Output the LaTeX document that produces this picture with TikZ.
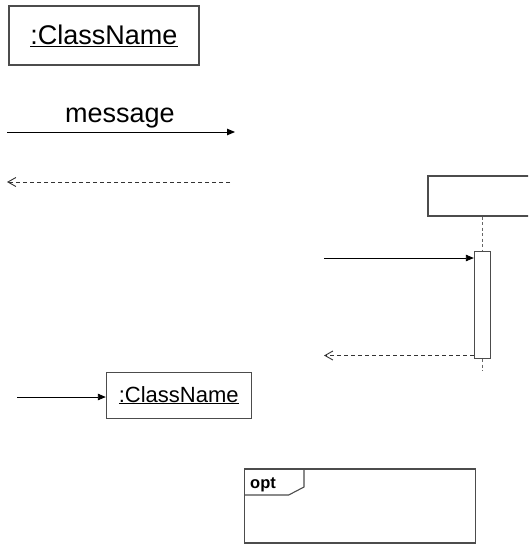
\documentclass[tikz,border=0pt]{standalone}
\usepackage{fontspec}
\setmainfont{Liberation Sans}
\usetikzlibrary{arrows.meta}
\begin{document}
\begin{tikzpicture}[x=1pt,y=-1pt,
  box/.style={draw=black!70, line width=1.1pt, inner sep=0pt, fill=white},
  msg/.style={draw=black, line width=0.9pt, -{Triangle[length=8pt,width=6.5pt]}},
  ret/.style={draw=black!80, line width=0.9pt, dash pattern=on 4pt off 3pt,
              -{Straight Barb[length=8pt,width=9pt,line width=0.9pt]}},
  life/.style={draw=black!60, line width=1.7pt, dash pattern=on 3pt off 2.5pt}]
\useasboundingbox (0,0) rectangle (528,544);
\clip (0,0) rectangle (528,544);

% object box with underlined name
\node[box, minimum width=190pt, minimum height=59pt] (obj1) at (104,35.5)
  {\fontsize{27pt}{32pt}\selectfont\underline{:ClassName}};

% synchronous message and its label
\coordinate (m1s) at (7,132);
\coordinate (m1e) at (235,132);
\node[anchor=base, inner sep=0pt] (mlabel) at (120,122)
  {\fontsize{27pt}{32pt}\selectfont message};
\draw[msg] (m1s) -- (m1e);

% return message
\coordinate (r1s) at (230,182);
\coordinate (r1e) at (7,182);
\draw[ret] (r1s) -- (r1e);

% lifeline head, lifeline and activation bar
\node[box, minimum width=120pt, minimum height=40pt] (head) at (488,196) {};
\node[box, line width=1pt, minimum width=16.4pt, minimum height=107pt] (act) at (482.5,305.2) {};
\coordinate (lifetop) at (482.5,216.5);
\coordinate (lifeend) at (482.5,371);
\draw[life] (lifetop) -- (act.north);
\draw[life] (act.south) -- (lifeend);

% call into the activation and its return
\coordinate (callsrc) at (324,258);
\draw[msg] (callsrc) -- (callsrc -| act.west);
\coordinate (retdst) at (324,355.5);
\draw[ret] (retdst -| act.west) -- (retdst);

% object created by an incoming message
\node[box, minimum width=144.7pt, minimum height=45.7pt] (obj2) at (178.7,395.2)
  {\fontsize{22pt}{26pt}\selectfont\underline{:ClassName}};
\coordinate (newsrc) at (17,397);
\draw[msg] (newsrc) -- (newsrc -| obj2.west);

% combined fragment frame
\coordinate (fNW) at (244.3,469);
\coordinate (fSE) at (475.7,543);
\draw[draw=black!70, line width=1.2pt] (fNW) rectangle (fSE);
\draw[draw=black!70, line width=1.1pt] (244.3,495) -- (288.7,495) -- (304,487) -- (304,469);
\node[anchor=base west, inner sep=0pt] (optlabel) at (250,488.5)
  {\fontsize{16.5pt}{19pt}\selectfont\bfseries opt};
\end{tikzpicture}
\end{document}
